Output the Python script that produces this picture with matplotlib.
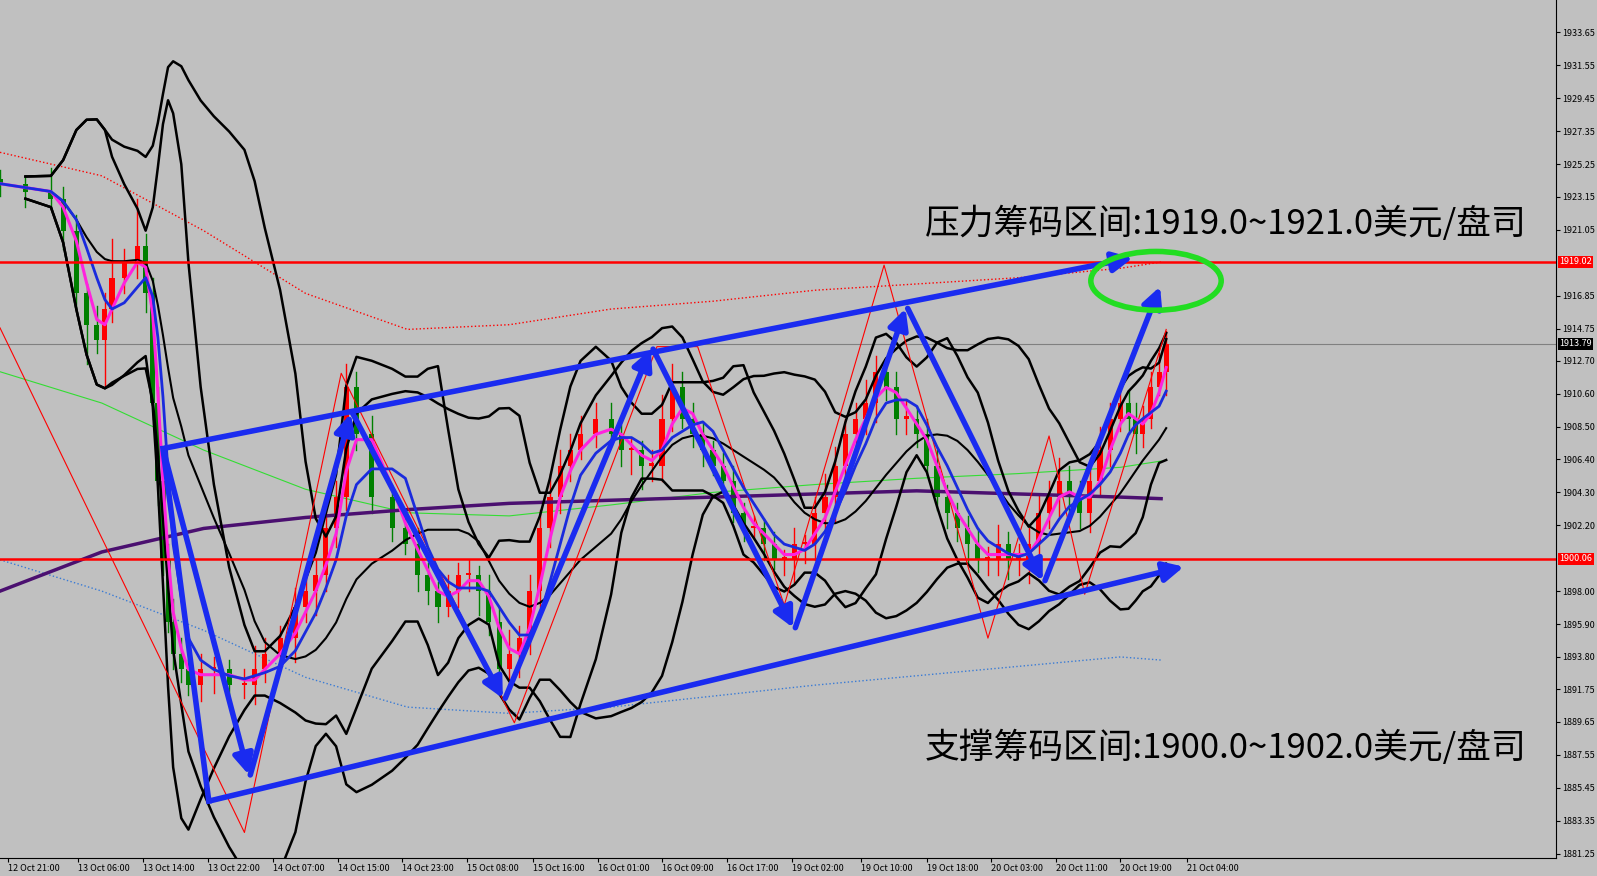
import numpy as np
import pandas as pd
import matplotlib
matplotlib.use("Agg")
import matplotlib.pyplot as plt
from matplotlib.patches import Ellipse, FancyArrowPatch

plt.rcParams['font.family'] = ['Noto Sans CJK SC', 'DejaVu Sans']

# ---- data (x in bar-position units, price on y) ----
bar_x = [0,25,50,62,75,85,95,103,110,122,135,143,150,155,160,165,170,178,185,197,210,225,240,250,260,275,290,300,310,320,330,340,350,365,385,398,410,420,430,440,450,460,470,480,490,500,510,520,530,540,550,560,570,585,600,610,620,630,640,650,660,670,680,690,700,710,720,730,740,750,760,770,780,790,800,810,820,830,840,850,860,870,880,890,900,910,920,930,940,950,960,970,980,990,1000,1010,1020,1030,1040,1050,1060,1070,1080,1090,1100,1108,1115,1122,1130,1138,1145]
closes = [1924,1923.5,1923,1921,1917,1915,1914,1916,1918,1919,1920,1917,1910,1905,1900,1896,1894,1893,1892,1893,1893,1892,1892,1893,1894,1895,1897,1898,1899,1902,1904,1911,1908,1904,1902,1901,1899,1898,1897,1898,1899,1899,1898,1896,1893,1894,1895,1898,1902,1904,1906,1907,1908,1909,1908,1907,1907,1906,1906,1909,1911,1909,1908,1907,1906,1905,1903,1902,1902,1901,1900,1900,1901,1901,1903,1904,1906,1908,1909,1910,1912,1911,1909,1909,1908,1906,1904,1903,1902,1901,1900,1900,1901,1900,1900,1901,1903,1904,1905,1904,1903,1905,1907,1909,1910,1909,1908,1909,1911,1912,1913.8]
highs_extra = [0.6,0.5,1.5,0.8,1.0,0.6,1.2,1.0,2.5,0.8,3.0,0.8,1.0,1.0,1.2,1.0,1.5,1.0,0.6,1.0,0.8,0.6,1.0,1.5,1.0,0.8,1.2,0.8,1.0,1.5,1.0,1.5,1.0,1.2,0.8,1.0,1.0,0.8,0.6,1.0,0.8,1.0,0.6,1.0,1.0,1.5,0.8,1.0,1.2,1.5,1.0,1.0,1.2,1.0,1.0,0.6,0.8,0.6,1.0,1.5,1.5,1.0,1.0,0.8,0.6,0.8,1.0,0.6,0.8,0.6,0.8,0.6,1.0,0.6,1.0,1.5,1.2,1.0,1.0,1.5,1.0,0.8,1.0,1.2,0.8,1.0,1.0,0.8,0.6,0.8,1.0,0.8,1.2,0.8,1.0,1.0,1.2,1.0,1.5,1.0,1.0,1.2,1.5,1.0,1.2,0.8,1.0,0.8,1.0,1.2,0.8]

envelope_x = [0,100,200,300,400,500,600,700,800,900,1000,1100,1140]
red_env = [1926,1924.5,1921,1917,1914.7,1915,1916,1916.5,1917.2,1917.6,1918,1918.6,1919]
blue_env = [1900,1898,1895.5,1892.5,1890.6,1890.2,1890.6,1891.3,1892,1892.6,1893.2,1893.8,1893.6]
green_ma = [1912,1910,1907,1904.5,1903,1902.8,1903.5,1904.3,1904.8,1905.2,1905.5,1905.9,1906.3]
purple_ma = [1898,1900.5,1902,1902.7,1903.2,1903.6,1903.8,1904,1904.2,1904.4,1904.2,1904,1903.9]

zig_x = [0,240,335,505,645,685,770,868,970,1030,1065,1145]
zig_y = [1914.8,1882.6,1911.9,1889.6,1913.6,1913.6,1897.1,1918.8,1895.0,1907.9,1897.8,1914.7]

channel_up = [(160,1907.1),(1115,1919.3)]
channel_low = [(205,1884.6),(1165,1899.6)]
zigzag_arrows = [(160,1907.1),(245,1886.1),(345,1909.5),(495,1891.0),(640,1913.6),(780,1895.5),(890,1916.2),(1025,1898.5),(1140,1917.6)]

yticks = [1933.65,1931.55,1929.45,1927.35,1925.25,1923.15,1921.05,1916.85,1914.75,1912.70,1910.60,1908.50,1906.40,1904.30,1902.20,1898.00,1895.90,1893.80,1891.75,1889.65,1887.55,1885.45,1883.35,1881.25]
xtick_pos = [8,77,140,204,268,332,395,459,523,587,650,714,778,845,910,973,1037,1100,1165]
xtick_lab = ["12 Oct 21:00","13 Oct 06:00","13 Oct 14:00","13 Oct 22:00","14 Oct 07:00","14 Oct 15:00","14 Oct 23:00","15 Oct 08:00","15 Oct 16:00","16 Oct 01:00","16 Oct 09:00","16 Oct 17:00","19 Oct 02:00","19 Oct 10:00","19 Oct 18:00","20 Oct 03:00","20 Oct 11:00","20 Oct 19:00","21 Oct 04:00"]

# ---- figure ----
fig = plt.figure(figsize=(15.97, 8.76), dpi=100)
fig.patch.set_facecolor('#c0c0c0')
ax = fig.add_axes([0.0, 0.02, 0.9745, 0.98])
ax.set_facecolor('#c0c0c0')
ax.set_xlim(0, 1528)
ax.set_ylim(1880.94, 1935.72)

s = pd.Series(closes)
opens = [closes[0] + 0.3] + closes[:-1]
for i, (x, o, c) in enumerate(zip(bar_x, opens, closes)):
    hi = max(o, c) + highs_extra[i]
    lo = min(o, c) - highs_extra[(i + 3) % len(highs_extra)]
    col = '#ff0000' if c >= o else '#008000'
    ax.plot([x, x], [lo, hi], color=col, lw=1, zorder=2)
    ax.bar(x, max(abs(c - o), 0.15), bottom=min(o, c), width=5, color=col, zorder=2)

ax.plot(envelope_x, red_env, color='red', ls=':', lw=1, zorder=1)
ax.plot(envelope_x, blue_env, color='#3a7bd5', ls=':', lw=1, zorder=1)
ax.plot(envelope_x, green_ma, color='#33dd33', lw=0.8, zorder=1)
ax.plot(envelope_x, purple_ma, color='#4b1070', lw=2.5, zorder=3)

ma5 = s.rolling(3, min_periods=1).mean()
ma10 = s.rolling(5, min_periods=1).mean()
ax.plot(bar_x, ma5, color='#ff22dd', lw=2.2, zorder=4)
ax.plot(bar_x, ma10, color='#1a2bdd', lw=2, zorder=4)
for w, k in [(8, 2.0), (16, 2.0)]:
    m = s.rolling(w, min_periods=2).mean()
    sd = s.rolling(w, min_periods=2).std()
    ax.plot(bar_x, m + k * sd, color='black', lw=1.8, zorder=3)
    ax.plot(bar_x, m - k * sd, color='black', lw=1.8, zorder=3)
m = s.rolling(12, min_periods=2).mean()
ax.plot(bar_x, m, color='black', lw=1.5, zorder=3)

ax.plot(zig_x, zig_y, color='red', lw=0.8, zorder=3)

ax.axhline(1919.02, color='red', lw=1.8, zorder=5)
ax.axhline(1900.06, color='red', lw=1.8, zorder=5)
ax.axhline(1913.79, color='#808080', lw=0.8, zorder=1)

def arrow(p, q):
    ax.add_patch(FancyArrowPatch(p, q, arrowstyle='-|>,head_length=12,head_width=6',
                                 color='#1a2bf0', lw=4, mutation_scale=1, zorder=6))
arrow(*channel_up)
arrow(*channel_low)
ax.plot([channel_up[0][0], channel_low[0][0]], [channel_up[0][1], channel_low[0][1]], color='#1a2bf0', lw=4, zorder=6)
for p, q in zip(zigzag_arrows[:-1], zigzag_arrows[1:]):
    arrow(p, q)

ax.add_patch(Ellipse((1135, 1917.8), 128, 3.75, fill=False, ec='#22dd22', lw=4, zorder=7))

ax.text(908, 1921.4, "压力筹码区间:1919.0~1921.0美元/盘司", fontsize=25, color='black', zorder=8, va='center')
ax.text(908, 1888.0, "支撑筹码区间:1900.0~1902.0美元/盘司", fontsize=25, color='black', zorder=8, va='center')

ax.yaxis.tick_right()
ax.set_yticks(yticks)
ax.set_yticklabels([f"{v:.2f}" for v in yticks], fontsize=6.5)
ax.set_xticks(xtick_pos)
ax.set_xticklabels(xtick_lab, fontsize=6.5, ha='left')
ax.tick_params(axis='both', length=3, pad=1)
for sp in ['top', 'left']:
    ax.spines[sp].set_visible(False)
for lv, fc in [(1919.02, 'red'), (1900.06, 'red'), (1913.79, 'black')]:
    ax.text(1.002, lv, f"{lv:.2f}", transform=ax.get_yaxis_transform(), fontsize=6.5,
            color='white', va='center', ha='left',
            bbox=dict(boxstyle='square,pad=0.15', fc=fc, ec='none'), zorder=9, clip_on=False)

fig.savefig('out.png', dpi=100, facecolor=fig.get_facecolor())
